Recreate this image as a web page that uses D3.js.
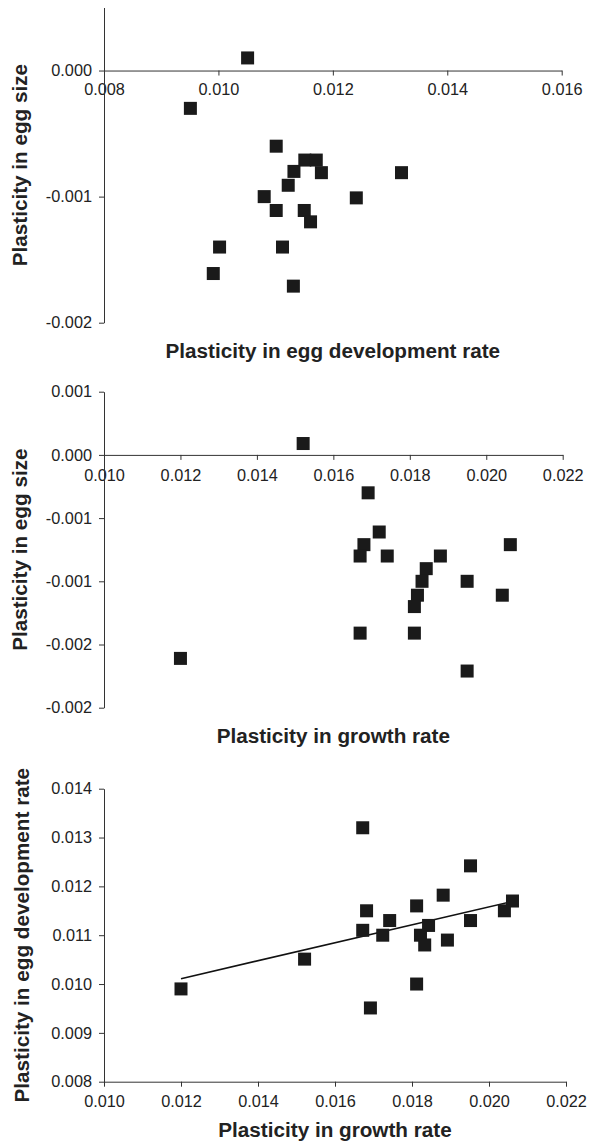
<!DOCTYPE html>
<html>
<head>
<meta charset="utf-8">
<script src="https://cdn.jsdelivr.net/npm/d3@7"></script>
<style>
  body { margin: 0; background: #fff; }
  svg { display: block; }
  .tick text { font-family: "Liberation Sans", Arial, sans-serif; font-size: 16.3px; fill: #222; }
  .axis path, .axis line { stroke: #333; stroke-width: 1; }
  .title { font-family: "Liberation Sans", Arial, sans-serif; font-size: 20.7px; font-weight: bold; fill: #222; }
</style>
</head>
<body>
<svg id="chart" width="595" height="1142"></svg>
<script>
// panel 1: egg development rate vs egg size
const devRate1 = [0.01051, 0.00951, 0.01101, 0.01080, 0.01101, 0.01122, 0.01132, 0.01151, 0.01171,
                  0.01180, 0.01320, 0.01241, 0.01150, 0.01161, 0.01112, 0.01002, 0.00991, 0.01131];
const eggSize1 = [0.00010, -0.00030, -0.00060, -0.00100, -0.00111, -0.00091, -0.00080, -0.00071, -0.00071,
                  -0.00081, -0.00081, -0.00101, -0.00111, -0.00120, -0.00140, -0.00140, -0.00161, -0.00171];

// panel 2: growth rate vs egg size
const growth2 = [0.01200, 0.01521, 0.01691, 0.01720, 0.01680, 0.01670, 0.01741, 0.01880, 0.02063,
                 0.01843, 0.01832, 0.01950, 0.01820, 0.01812, 0.02042, 0.01670, 0.01812, 0.01950];
const eggSize2 = [-0.00161, 0.00009, -0.00030, -0.00061, -0.00071, -0.00080, -0.00080, -0.00080, -0.00071,
                  -0.00090, -0.00100, -0.00100, -0.00111, -0.00120, -0.00111, -0.00141, -0.00141, -0.00171];

// panel 3: growth rate vs egg development rate
const growth3 = [0.01200, 0.01521, 0.01672, 0.01952, 0.01881, 0.01812, 0.01682, 0.02061, 0.02040, 0.01742,
                 0.01952, 0.01672, 0.01843, 0.01724, 0.01822, 0.01833, 0.01892, 0.01812, 0.01692];
const devRate3 = [0.00990, 0.01051, 0.01320, 0.01242, 0.01182, 0.01160, 0.01150, 0.01170, 0.01150, 0.01130,
                  0.01130, 0.01110, 0.01120, 0.01100, 0.01100, 0.01080, 0.01090, 0.01000, 0.00951];
// fitted line as drawn (start and end)
const fitX = [0.0120, 0.0206];
const fitY = [0.01011, 0.01169];

// tick values and labels
const xTicks1 = [0.008, 0.010, 0.012, 0.014, 0.016];
const xLabels1 = ["0.008", "0.010", "0.012", "0.014", "0.016"];
const yTicks1 = [0, -0.001, -0.002];
const yLabels1 = ["0.000", "-0.001", "-0.002"];
const xTicks23 = [0.010, 0.012, 0.014, 0.016, 0.018, 0.020, 0.022];
const xLabels23 = ["0.010", "0.012", "0.014", "0.016", "0.018", "0.020", "0.022"];
const yTicks2 = [0.0005, 0, -0.0005, -0.001, -0.0015, -0.002];
const yLabels2 = ["0.001", "0.000", "-0.001", "-0.001", "-0.002", "-0.002"];
const yTicks3 = [0.008, 0.009, 0.010, 0.011, 0.012, 0.013, 0.014];
const yLabels3 = ["0.008", "0.009", "0.010", "0.011", "0.012", "0.013", "0.014"];

const svg = d3.select('#chart');
const sq = 13;

function labeler(ticks, labels) {
    return v => labels[ticks.findIndex(t => Math.abs(t - v) < 1e-9)];
}

function panel(opts) {
    const x = d3.scaleLinear().domain(opts.xDomain).range(opts.xRange);
    const y = d3.scaleLinear().domain(opts.yDomain).range(opts.yRange);
    const g = svg.append('g');

    g.append('g')
        .attr('class', 'axis')
        .attr('transform', `translate(0,${y(opts.xAxisAt)})`)
        .call(d3.axisBottom(x)
            .tickValues(opts.xTicks)
            .tickFormat(labeler(opts.xTicks, opts.xLabels))
            .tickSize(5).tickSizeOuter(0).tickPadding(opts.xPad));

    g.append('g')
        .attr('class', 'axis')
        .attr('transform', `translate(${opts.xRange[0]},0)`)
        .call(d3.axisLeft(y)
            .tickValues(opts.yTicks)
            .tickFormat(labeler(opts.yTicks, opts.yLabels))
            .tickSize(5).tickSizeOuter(0).tickPadding(7));

    if (opts.line) {
        g.append('line')
            .attr('x1', x(opts.line.x[0])).attr('y1', y(opts.line.y[0]))
            .attr('x2', x(opts.line.x[1])).attr('y2', y(opts.line.y[1]))
            .attr('stroke', '#111')
            .attr('stroke-width', 1.6);
    }

    g.selectAll('rect.pt')
        .data(opts.xs.map((v, i) => [v, opts.ys[i]]))
        .enter()
        .append('rect')
        .attr('class', 'pt')
        .attr('x', d => x(d[0]) - sq / 2)
        .attr('y', d => y(d[1]) - sq / 2)
        .attr('width', sq)
        .attr('height', sq)
        .attr('fill', '#1a1a1a');

    g.append('text')
        .attr('class', 'title')
        .attr('text-anchor', 'middle')
        .attr('x', (opts.xRange[0] + opts.xRange[1]) / 2)
        .attr('y', opts.xTitleY)
        .text(opts.xTitle);

    g.append('text')
        .attr('class', 'title')
        .attr('text-anchor', 'middle')
        .attr('transform', `translate(${opts.yTitleX},${(opts.yRange[0] + opts.yRange[1]) / 2}) rotate(-90)`)
        .text(opts.yTitle);
}

panel({
    xs: devRate1, ys: eggSize1,
    xDomain: [0.008, 0.016], xRange: [104, 561.7],
    yDomain: [-0.002, 0.0005], yRange: [322.7, 7.5],
    xAxisAt: 0, xPad: 8,
    xTicks: xTicks1, xLabels: xLabels1, yTicks: yTicks1, yLabels: yLabels1,
    xTitle: 'Plasticity in egg development rate', xTitleY: 358,
    yTitle: 'Plasticity in egg size', yTitleX: 27
});

panel({
    xs: growth2, ys: eggSize2,
    xDomain: [0.010, 0.022], xRange: [104, 562.7],
    yDomain: [-0.002, 0.0005], yRange: [707.7, 391.7],
    xAxisAt: 0, xPad: 10,
    xTicks: xTicks23, xLabels: xLabels23, yTicks: yTicks2, yLabels: yLabels2,
    xTitle: 'Plasticity in growth rate', xTitleY: 742.5,
    yTitle: 'Plasticity in egg size', yTitleX: 27
});

panel({
    xs: growth3, ys: devRate3,
    xDomain: [0.010, 0.022], xRange: [104, 566],
    yDomain: [0.008, 0.014], yRange: [1081.7, 788.7],
    xAxisAt: 0.008, xPad: 9,
    xTicks: xTicks23, xLabels: xLabels23, yTicks: yTicks3, yLabels: yLabels3,
    line: { x: fitX, y: fitY },
    xTitle: 'Plasticity in growth rate', xTitleY: 1137,
    yTitle: 'Plasticity in egg development rate', yTitleX: 29
});
</script>
</body>
</html>
